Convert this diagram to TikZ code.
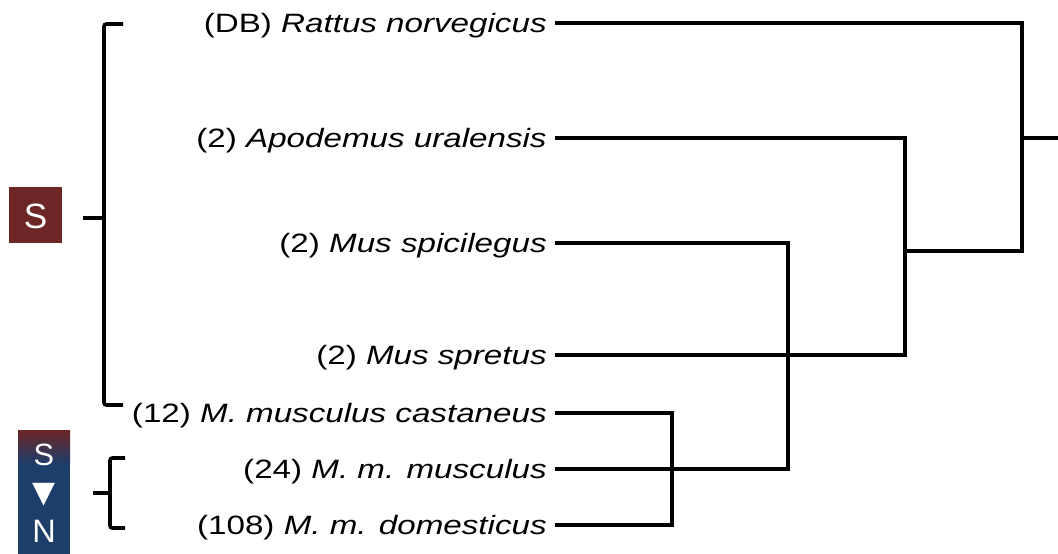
\documentclass[tikz,border=0pt]{standalone}
\usepackage{fontspec}
\setmainfont{Liberation Sans}
\newfontfamily\taxonfont{Liberation Sans}[FakeStretch=1.25]
\newfontfamily\symbolfont{DejaVu Sans}
\definecolor{southred}{HTML}{6C2626}
\definecolor{northblue}{HTML}{1D3D6B}

\begin{document}
\begin{tikzpicture}[
  x=0.02cm, y=-0.02cm,
  branch/.style={line width=2.1pt},
  bracket/.style={line width=2.1pt, rounded corners=0.05cm},
  taxon/.style={anchor=east, inner xsep=0.16cm, inner ysep=0pt,
    text height=10.8pt, text depth=0pt,
    font=\taxonfont\fontsize{15.1}{16}\selectfont},
  boxlabel/.style={text=white, inner sep=0pt}
]
  \useasboundingbox (0,0) rectangle (1058,554);

  % Taxa
  \node[taxon] (rn) at (555,23)  {(DB) \textit{Rattus norvegicus}};
  \node[taxon] (au) at (555,138) {(2) \textit{Apodemus uralensis}};
  \node[taxon] (ms) at (555,243) {(2) \textit{Mus spicilegus}};
  \node[taxon] (mp) at (555,355) {(2) \textit{Mus spretus}};
  \node[taxon] (mc) at (555,413) {(12) \textit{M. musculus castaneus}};
  \node[taxon] (mm) at (555,469) {(24) \textit{M. m. musculus}};
  \node[taxon] (md) at (555,525) {(108) \textit{M. m. domesticus}};

  % Tree
  \coordinate (ap) at (905,251);
  \coordinate (root) at (1058,138);
  \draw[branch] (mc.east) -| (672,525) -- (md.east);
  \draw[branch] (mm.east) -| (788,243) -- (ms.east);
  \draw[branch] (au.east) -| (905,355) -- (mp.east);
  \draw[branch] (ap) -| (1022,23) -- (rn.east);
  \draw[branch] (1022,138) -- (root);

  % S group
  \fill[southred] (9,187) rectangle (62,243);
  \node[boxlabel, font=\fontsize{20}{22}\selectfont] (south) at (35.5,216) {S};
  \draw[bracket] (123,24) -- (104,24) -- (104,405) -- (123,405);
  \draw[bracket] (83,218) -- (104,218);

  % S to N group
  \fill[northblue] (18,430) rectangle (70,554);
  \shade[top color=southred, bottom color=northblue] (18,430) rectangle (70,464);
  \node[boxlabel, font=\fontsize{17.5}{18}\selectfont] (south2) at (44,455) {S};
  \node[boxlabel, font=\symbolfont\fontsize{17}{18}\selectfont] (dir) at (44,495) {▼};
  \node[boxlabel, font=\fontsize{18.5}{19}\selectfont] (north) at (44,531) {N};
  \draw[bracket] (125,458) -- (110,458) -- (110,528) -- (125,528);
  \draw[bracket] (93,493) -- (110,493);
\end{tikzpicture}
\end{document}
